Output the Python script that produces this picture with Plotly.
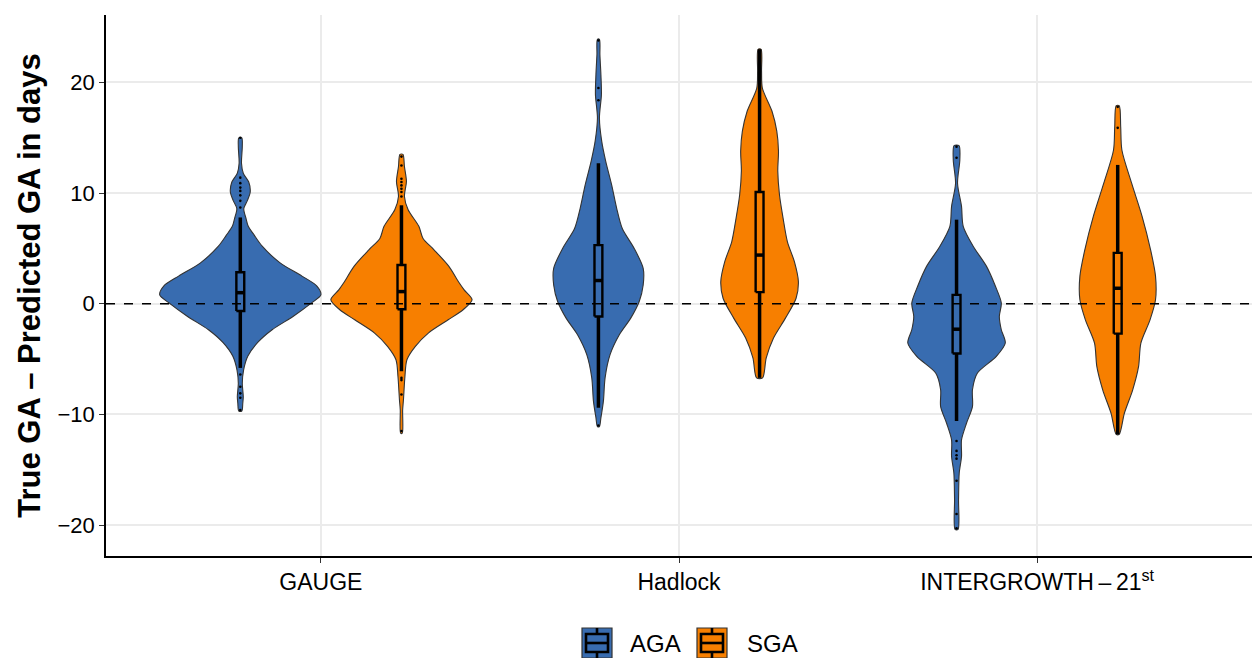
import plotly.graph_objects as go

# ---- data ---------------------------------------------------------------
methods = ["GAUGE", "Hadlock", "INTERGROWTH\u2009\u2013\u200921<sup>st</sup>"]
groups = ["AGA", "SGA"]
colors = {"AGA": "#386CB0", "SGA": "#F77F00"}

# violin density profiles: y level (days) and relative density at that level
gauge_aga_y = [15.0, 14.2, 12.7, 11.8, 11.0, 10.1, 9.3, 8.6, 7.7, 7.0, 6.2, 5.2, 3.7, 2.5, 1.6, 0.8, 0.1,
               -1.15, -2.35, -3.5, -4.75, -6.0, -7.2, -8.4, -9.0, -9.7]
gauge_aga_d = [1.5, 2.0, 1.2, 3.0, 8.5, 10.0, 7.0, 3.5, 5.8, 8.0, 14.0, 22.0, 40.0, 62.0, 77.0, 81.0, 72.0,
               53.0, 32.0, 17.5, 7.5, 3.3, 2.0, 3.0, 2.5, 1.5]

gauge_sga_y = [13.5, 12.4, 11.05, 9.7, 8.5, 7.0, 5.9, 4.9, 3.4, 1.9, 1.26, 0.36, -0.54, -1.45, -2.65,
               -3.85, -5.06, -6.57, -8.7, -9.6, -11.7]
gauge_sga_d = [1.5, 3.0, 5.0, 3.0, 6.7, 17.5, 21.7, 32.5, 47.5, 58.0, 63.0, 71.0, 62.0, 47.0, 27.0,
               14.0, 5.5, 3.5, 2.0, 1.2, 0.8]

hadlock_aga_y = [23.9, 22.5, 20.7, 18.9, 16.8, 14.7, 12.9, 10.75, 8.65, 6.8, 5.0, 3.2, 1.7, 0.2, -1.3,
                 -2.8, -4.6, -6.7, -8.8, -10.3, -11.1]
hadlock_aga_d = [1.0, 1.5, 2.5, 3.0, 1.0, 3.3, 7.3, 13.3, 18.3, 24.0, 36.0, 45.0, 45.0, 41.0, 32.5,
                 21.0, 11.7, 6.7, 5.0, 2.5, 1.0]

hadlock_sga_y = [23.0, 21.0, 19.5, 17.4, 15.6, 13.8, 12.0, 9.85, 7.7, 5.6, 3.8, 2.0, 0.5, -1.3, -3.1,
                 -4.9, -6.7]
hadlock_sga_d = [1.5, 2.0, 2.8, 12.5, 17.3, 19.0, 18.3, 20.0, 23.7, 28.0, 35.0, 39.0, 36.7, 26.0, 14.0,
                 6.7, 3.0]

ig_aga_y = [14.3, 13.0, 10.9, 8.8, 7.0, 5.2, 3.4, 1.6, 0.06, -1.15, -2.35, -3.55, -4.76, -6.26, -7.77,
            -9.3, -10.8, -12.3, -13.8, -15.3, -17.7, -20.4]
ig_aga_d = [2.5, 3.3, 1.0, 5.0, 6.7, 16.7, 30.0, 39.0, 45.0, 43.0, 45.0, 49.0, 40.0, 21.0, 16.0,
            16.0, 10.0, 5.0, 5.0, 2.7, 2.0, 1.5]

ig_sga_y = [17.9, 16.0, 13.9, 10.9, 7.9, 4.9, 2.5, 0.36, -1.45, -3.55, -5.66, -7.8, -9.9, -11.8]
ig_sga_d = [1.5, 3.0, 4.2, 14.0, 24.5, 33.0, 38.0, 38.0, 32.5, 23.3, 21.0, 15.0, 6.7, 1.5]

# box summaries: lower whisker, Q1, median, Q3, upper whisker
box_lower = {"AGA": [-5.8, -9.4, -10.6], "SGA": [-6.1, -6.7, -11.8]}
box_q1 = {"AGA": [-0.65, -1.15, -4.5], "SGA": [-0.5, 1.05, -2.7]}
box_median = {"AGA": [1.0, 2.1, -2.3], "SGA": [1.1, 4.4, 1.4]}
box_q3 = {"AGA": [2.85, 5.3, 0.8], "SGA": [3.5, 10.1, 4.6]}
box_upper = {"AGA": [7.8, 12.7, 7.6], "SGA": [8.9, 23.0, 12.55]}

outliers = {
    ("AGA", 0): [15.0, 11.4, 10.9, 10.5, 10.2, 9.8, 9.3, 8.7, -6.4, -7.5, -8.1, -8.5, -9.6],
    ("SGA", 0): [13.3, 12.5, 11.3, 11.0, 10.7, 10.4, 10.1, 9.7, -6.7, -6.9, -8.2, -11.5],
    ("AGA", 1): [23.8, 19.5, 18.4, -11.0],
    ("SGA", 1): [],
    ("AGA", 2): [14.2, 13.2, -12.4, -13.3, -13.7, -14.0, -16.0, -19.0, -20.3],
    ("SGA", 2): [17.8, 15.9],
}

profiles = {
    ("AGA", 0): (gauge_aga_y, gauge_aga_d),
    ("SGA", 0): (gauge_sga_y, gauge_sga_d),
    ("AGA", 1): (hadlock_aga_y, hadlock_aga_d),
    ("SGA", 1): (hadlock_sga_y, hadlock_sga_d),
    ("AGA", 2): (ig_aga_y, ig_aga_d),
    ("SGA", 2): (ig_sga_y, ig_sga_d),
}

y_ticks = [-20, -10, 0, 10, 20]

# ---- geometry -----------------------------------------------------------
dodge = 0.9
n_groups = len(groups)
slot = dodge / n_groups
half_max = slot / 2            # widest violin spans the full dodge slot
box_half = 0.011
dmax = max(max(d) for _, d in profiles.values())

FONT = "Liberation Sans, Arial, Helvetica, sans-serif"

fig = go.Figure()

for gi, g in enumerate(groups):
    offset = -dodge / 2 + slot * (gi + 0.5)
    for mi in range(len(methods)):
        pos = (mi + 1) + offset
        ys, ds = profiles[(g, mi)]
        ys_up = ys[::-1]
        ds_up = ds[::-1]
        right_x = [pos + d / dmax * half_max for d in ds_up]
        left_x = [pos - d / dmax * half_max for d in ds]
        fig.add_trace(go.Scatter(
            x=right_x + left_x + [right_x[0]],
            y=ys_up + ys + [ys_up[0]],
            mode="lines", fill="toself", fillcolor=colors[g],
            line=dict(color="#333333", width=1.1, shape="spline", smoothing=0.8),
            showlegend=False, hoverinfo="skip",
        ))

        q1, med, q3 = box_q1[g][mi], box_median[g][mi], box_q3[g][mi]

        # whiskers
        fig.add_trace(go.Scatter(
            x=[pos, pos, None, pos, pos],
            y=[box_lower[g][mi], q1, None, q3, box_upper[g][mi]],
            mode="lines", line=dict(color="black", width=3.5),
            showlegend=False, hoverinfo="skip",
        ))

        # box (interquartile range)
        fig.add_trace(go.Scatter(
            x=[pos - box_half, pos + box_half, pos + box_half, pos - box_half, pos - box_half],
            y=[q1, q1, q3, q3, q1],
            mode="lines", fill="toself", fillcolor=colors[g],
            line=dict(color="black", width=2.4),
            showlegend=False, hoverinfo="skip",
        ))

        # median
        fig.add_trace(go.Scatter(
            x=[pos - box_half, pos + box_half], y=[med, med],
            mode="lines", line=dict(color="black", width=3.5),
            showlegend=False, hoverinfo="skip",
        ))

        # outlying points
        pts = outliers[(g, mi)]
        if pts:
            fig.add_trace(go.Scatter(
                x=[pos] * len(pts), y=pts, mode="markers",
                marker=dict(color="black", size=2.6),
                showlegend=False, hoverinfo="skip",
            ))

fig.add_shape(type="line", xref="paper", yref="y", x0=0, x1=1, y0=0, y1=0,
              line=dict(color="black", width=1.4, dash="dash"), layer="above")

# ---- legend (keys drawn as boxplot glyphs below the panel) -------------
PLOT_L, PLOT_W, PLOT_B, PLOT_H = 106, 1146, 556, 541


def px_x(v):
    return (v - PLOT_L) / PLOT_W


def px_y(v):
    return (PLOT_B - v) / PLOT_H


legend_keys = [("AGA", 582, 628), ("SGA", 697, 745)]
for g, key_left, text_left in legend_keys:
    top, bottom = 628, 658
    fig.add_shape(type="rect", xref="paper", yref="paper",
                  x0=px_x(key_left), x1=px_x(key_left + 30), y0=px_y(bottom), y1=px_y(top),
                  fillcolor=colors[g], line=dict(color="#333333", width=1.2))
    fig.add_shape(type="rect", xref="paper", yref="paper",
                  x0=px_x(key_left + 4), x1=px_x(key_left + 26), y0=px_y(652), y1=px_y(634),
                  fillcolor=colors[g], line=dict(color="black", width=2.6))
    fig.add_shape(type="line", xref="paper", yref="paper",
                  x0=px_x(key_left + 4), x1=px_x(key_left + 26), y0=px_y(643), y1=px_y(643),
                  line=dict(color="black", width=2.6))
    for y0, y1 in ((628, 634), (652, 658)):
        fig.add_shape(type="line", xref="paper", yref="paper",
                      x0=px_x(key_left + 15), x1=px_x(key_left + 15), y0=px_y(y1), y1=px_y(y0),
                      line=dict(color="black", width=2.6))
    fig.add_annotation(text=g, xref="paper", yref="paper", x=px_x(text_left), y=px_y(643),
                       xanchor="left", yanchor="middle", showarrow=False,
                       font=dict(size=24, color="black"))

fig.update_layout(
    width=1252, height=658,
    margin=dict(l=106, r=0, t=15, b=102),
    paper_bgcolor="white", plot_bgcolor="white",
    font=dict(family=FONT, size=21, color="black"),
    hovermode=False,
    showlegend=False,
    xaxis=dict(
        range=[0.4, 3.6], tickmode="array", tickvals=[1, 2, 3], ticktext=methods,
        showgrid=True, gridcolor="#EBEBEB", gridwidth=1.6,
        showline=True, linecolor="black", linewidth=1.6,
        ticks="outside", ticklen=5, tickwidth=1.3, tickcolor="#333333",
        zeroline=False, tickfont=dict(size=23),
    ),
    yaxis=dict(
        range=[-22.8, 26.1], tickmode="array", tickvals=y_ticks,
        ticktext=[("\u2212" + str(-v)) if v < 0 else str(v) for v in y_ticks],
        showgrid=True, gridcolor="#EBEBEB", gridwidth=1.6,
        showline=True, linecolor="black", linewidth=1.6,
        ticks="outside", ticklen=5, tickwidth=1.3, tickcolor="#333333",
        zeroline=False, tickfont=dict(size=22),
        title=dict(text="<b>True GA \u2013 Predicted GA in days</b>", font=dict(size=31), standoff=8),
    ),
)

fig.write_html("out.html")
